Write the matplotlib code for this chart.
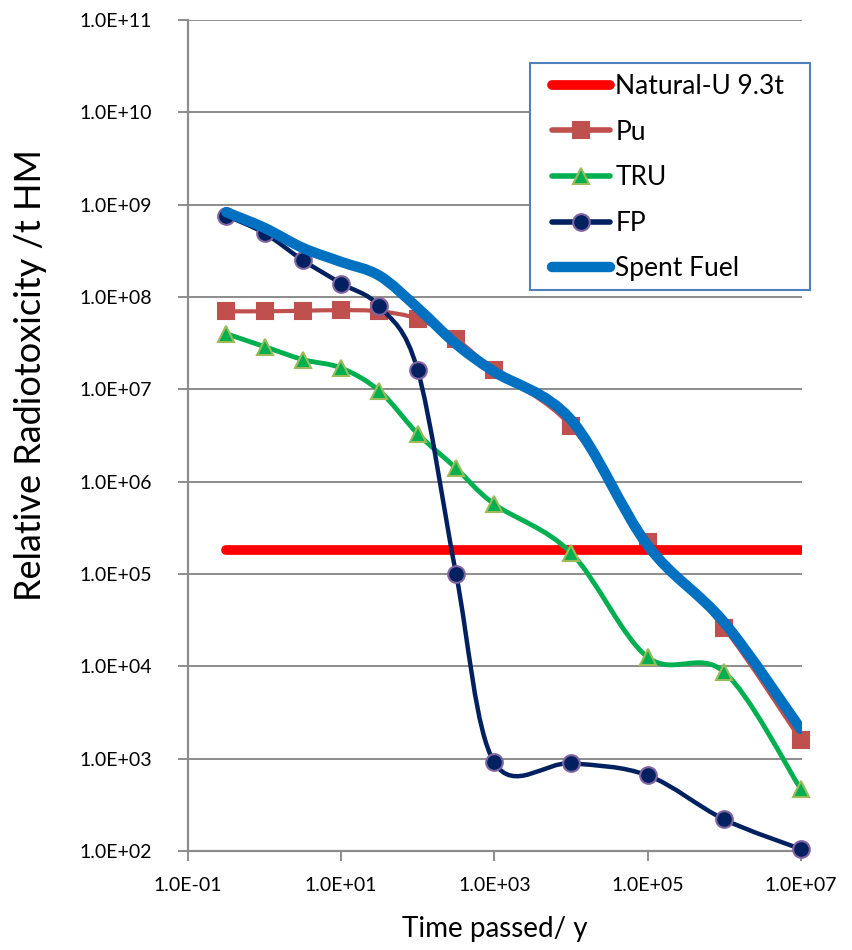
import numpy as np
import matplotlib.pyplot as plt
from matplotlib.path import Path
from matplotlib.patches import PathPatch, Rectangle
from matplotlib.lines import Line2D
from matplotlib.ticker import FixedLocator, FuncFormatter, NullLocator

plt.rcParams['font.family'] = ['Lato', 'DejaVu Sans']

# time points, years
t = [10**-0.5, 1e0, 10**0.5, 1e1, 10**1.5, 1e2, 10**2.5, 1e3, 1e4, 1e5, 1e6, 1e7]

nat_u = [1.8e5] * 12
pu = [7.0e7, 7.0e7, 7.1e7, 7.2e7, 7.0e7, 5.8e7, 3.5e7, 1.6e7, 4.0e6, 2.2e5, 2.6e4, 1.6e3]
tru = [4.0e7, 2.9e7, 2.1e7, 1.7e7, 9.6e6, 3.3e6, 1.4e6, 5.7e5, 1.7e5, 1.26e4, 8.7e3, 4.7e2]
fp = [7.6e8, 4.9e8, 2.5e8, 1.4e8, 7.9e7, 1.6e7, 1.0e5, 9.1e2, 8.9e2, 6.6e2, 2.2e2, 1.05e2]
spent = [8.3e8, 5.6e8, 3.4e8, 2.4e8, 1.7e8, 7.6e7, 3.1e7, 1.55e7, 4.7e6, 2.05e5, 3.0e4, 2.1e3]

labels = ['Natural-U 9.3t', 'Pu', 'TRU', 'FP', 'Spent Fuel']
yticks = [10.0**k for k in range(2, 12)]
xticks = [1e-1, 1e1, 1e3, 1e5, 1e7]


def smooth_path(x, y):
    # Excel style smoothing: bezier segments built in log-log space
    lx = np.log10(x)
    ly = np.log10(y)
    n = len(lx)
    verts = [(lx[0], ly[0])]
    codes = [Path.MOVETO]
    for i in range(n - 1):
        a = max(i - 1, 0)
        b = min(i + 2, n - 1)
        c1 = (lx[i] + (lx[i + 1] - lx[a]) / 6, ly[i] + (ly[i + 1] - ly[a]) / 6)
        c2 = (lx[i + 1] - (lx[b] - lx[i]) / 6, ly[i + 1] - (ly[b] - ly[i]) / 6)
        verts += [c1, c2, (lx[i + 1], ly[i + 1])]
        codes += [Path.CURVE4] * 3
    verts = 10 ** np.array(verts)
    return Path(verts, codes)


fig = plt.figure(figsize=(8.52, 9.5), dpi=100)
ax = fig.add_axes([188 / 852, 1 - 851 / 950, 614 / 852, 831 / 950])
ax.set_xscale('log')
ax.set_yscale('log')
ax.set_xlim(1e-1, 1.04e7)
ax.set_ylim(1e2, 1e11)

grey = '#8c8c8c'
ax.yaxis.set_major_locator(FixedLocator(yticks))
ax.xaxis.set_major_locator(FixedLocator(xticks))
ax.yaxis.set_minor_locator(NullLocator())
ax.xaxis.set_minor_locator(NullLocator())
fmt = FuncFormatter(lambda v, p: '1.0E%+03d' % round(np.log10(v)))
ax.yaxis.set_major_formatter(fmt)
ax.xaxis.set_major_formatter(fmt)
ax.grid(axis='y', color=grey, linewidth=1.4, zorder=0)
for s in ['top', 'right']:
    ax.spines[s].set_visible(False)
for s in ['left', 'bottom']:
    ax.spines[s].set_color(grey)
    ax.spines[s].set_linewidth(1.6)
ax.tick_params(colors=grey, labelcolor='black', labelsize=14, length=7, width=1.4)
ax.tick_params(axis='x', pad=12)
ax.tick_params(axis='y', pad=19)

series = [
    (nat_u, '#ff0000', 7.0, None, None, None, 3),
    (pu, '#c0504d', 3.0, 's', '#c0504d', '#c0504d', 2),
    (tru, '#00b050', 3.5, '^', '#00b050', '#9bbb59', 4),
    (fp, '#002060', 3.2, 'o', '#002060', '#8064a2', 5),
    (spent, '#0070c0', 7.5, None, None, None, 6),
]
handles = []
for vals, col, lw, mk, fc, ec, z in series:
    if vals is nat_u:
        ax.plot(t, vals, color=col, lw=lw, solid_capstyle='round', zorder=z)
    else:
        ax.add_patch(PathPatch(smooth_path(t, vals), fill=False, edgecolor=col, lw=lw,
                               capstyle='round', joinstyle='round', zorder=z))
    if mk:
        ax.plot(t, vals, linestyle='none', marker=mk, markersize=12, markerfacecolor=fc,
                markeredgecolor=ec, markeredgewidth=1.5, zorder=z + 0.5, clip_on=False)
    handles.append(Line2D([], [], color=col, lw=lw if mk is None else 4, marker=mk,
                          markersize=12, markerfacecolor=fc, markeredgecolor=ec,
                          markeredgewidth=1.5, solid_capstyle='round'))

# legend frame
fig.add_artist(Rectangle((530 / 852, 1 - 290 / 950), 280 / 852, 227 / 950,
                         transform=fig.transFigure, facecolor='white',
                         edgecolor='#4f81bd', linewidth=1.5, zorder=5))
leg = fig.legend(handles, labels, loc='upper left', bbox_to_anchor=(552 / 852, 1 - 74 / 950),
                 fontsize=19, handlelength=2.2, handletextpad=0.2, labelspacing=0.78,
                 borderpad=0, borderaxespad=0, frameon=False)
leg.set_zorder(6)

ax.set_xlabel('Time passed/ y', fontsize=20)
ax.xaxis.set_label_coords(0.5, -0.078)
ax.set_ylabel('Relative Radiotoxicity /t HM', fontsize=26)
ax.yaxis.set_label_coords(-0.2296, 0.573)

fig.savefig('out.png', dpi=100)
